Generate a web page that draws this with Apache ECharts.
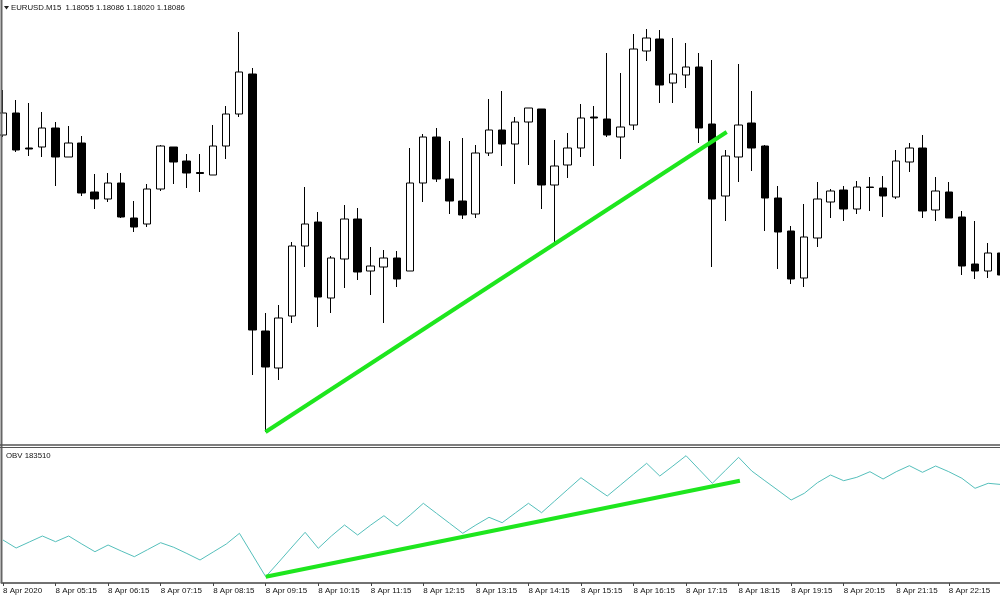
<!DOCTYPE html>
<html>
<head>
<meta charset="utf-8">
<script src="https://cdn.jsdelivr.net/npm/echarts@6/dist/echarts.min.js"></script>
<style>
html,body{margin:0;padding:0;background:#fff;}
#chart{width:1000px;height:600px;}
</style>
</head>
<body>
<div id="chart"></div>
<script>
// ---- data (price & OBV in relative units) ----
const tickLabels = ['8 Apr 2020','8 Apr 05:15','8 Apr 06:15','8 Apr 07:15','8 Apr 08:15','8 Apr 09:15','8 Apr 10:15','8 Apr 11:15','8 Apr 12:15','8 Apr 13:15','8 Apr 14:15','8 Apr 15:15','8 Apr 16:15','8 Apr 17:15','8 Apr 18:15','8 Apr 19:15','8 Apr 20:15','8 Apr 21:15','8 Apr 22:15'];
const tickIndex = [0,4,8,12,16,20,24,28,32,36,40,44,48,52,56,60,64,68,72];

const opens  = [365,387,352,353,372,343,357,308,301,317, 282,276,311,353,339,327.5,325,354,386,426, 169,132,184,254,278,202,241,281,229,233, 242,229,317,363,321,299,286,347,370,356, 378,391,315,335,352,383,381,363,375,449, 461,417,425,433,376,304,343,377,354,302, 269,222,262,298,310,291,313,312,303,338, 352,290,308,283,236,229,247];
const closes = [387,350,351,372,343,357,307,301,317,283, 273,311,354,338,327,326.5,354,386,428,170, 133,182,254,276,203,242,281,228,234,242, 221,317,363,321,299,285,347,370,356,378, 392,315,334,352,382,382,365,373,451,462, 415,426,433,372,301,344,375,352,302,268, 221,263,301,309,291,313,312.5,304,339,352, 289,309,282,234,229,247,225];
const lows   = [363,348,344,343,314,343,304,291,298,282, 268,273,309,316,312,308,325,341,383,125, 68,120,177,233,173,187,212,220,205,177, 213,229,298,318,286,281,282,344,334,316, 335,291,256,322,343,334,363,341,370,439, 397,397,412,357,233,279,318,329,269,231, 216,213,253,282,279,286,289,283,301,328, 282,279,282,225,221,222,224];
const highs  = [410,400,397,388,378,374,364,326,327,327, 299,316,355,353,346,346,375,394,468,432, 187,195,258,313,288,244,295,292,253,250, 249,352,366,372,359,362,355,401,409,383, 392,391,360,367,396,394,447,427,466,471, 470,462,457,447,440,350,436,409,355,314, 274,296,318,311,314,319,323,324,350,357, 365,323,318,289,279,257,255];
const obv    = [128,120,126,132,126.3,132,124,116.3,123,117, 111.3,118.3,125.3,120.7,114.5,108,116,124,134.7,113, 91.3,106,121,135.7,119.7,132,143,133,143,152.3, 142,153,164.7,154.7,144.7,134.7,143,150.7,145.3,155, 164.7,155.3,167,178.7,190.3,181,172,182.9,193.8,204.7, 192,202,212.3,198.5,184.7,197.7,210.7,197,187.3,177.7, 168,174.7,185.3,193,187.3,190.7,196.3,189,196.3,202.3, 195.7,202,196.3,189.7,179.7,184.7,183.5];
const trendPrice = [[20, 68], [55.1, 368]];
const trendObv   = [[20, 91.3], [56.1, 187.3]];
const headerText = 'EURUSD.M15  1.18055 1.18086 1.18020 1.18086';
const obvText = 'OBV 183510';

// ---- build ----
const candleData = opens.map((o, i) => [i, o, closes[i], lows[i], highs[i]]);
const obvData = obv.map((v, i) => [i, v]);
const FONT = "'Liberation Sans', Arial, sans-serif";
const XMIN = -0.129, XMAX = 75.9;

const chart = echarts.init(document.getElementById('chart'), null, {renderer: 'canvas'});
chart.setOption({
  animation: false,
  backgroundColor: '#fff',
  grid: [
    {left: 1, right: 0, top: 0, height: 444},
    {left: 1, right: 0, top: 448, height: 135}
  ],
  xAxis: [
    {type: 'value', gridIndex: 0, min: XMIN, max: XMAX, show: false, splitLine: {show: false}},
    {type: 'value', gridIndex: 1, min: XMIN, max: XMAX,
      splitLine: {show: false},
      axisLine: {show: true, onZero: false, lineStyle: {color: '#444', width: 1.5}},
      axisTick: {show: true, customValues: tickIndex, length: 3, lineStyle: {color: '#444', width: 1}},
      axisLabel: {show: true, customValues: tickIndex, align: 'left', margin: 4, fontSize: 8,
        fontFamily: FONT, color: '#111',
        formatter: v => tickLabels[Math.round(v / 4)] || ''}
    }
  ],
  yAxis: [
    {type: 'value', gridIndex: 0, min: 56, max: 500, show: false, splitLine: {show: false}},
    {type: 'value', gridIndex: 1, min: 85, max: 220, show: false, splitLine: {show: false}}
  ],
  series: [
    {type: 'candlestick', xAxisIndex: 0, yAxisIndex: 0, data: candleData,
      encode: {x: 0, y: [1, 2, 3, 4]}, barWidth: 8,
      itemStyle: {color: '#fff', color0: '#000', borderColor: '#000', borderColor0: '#000', borderWidth: 1},
      z: 2},
    {type: 'line', xAxisIndex: 0, yAxisIndex: 0, data: trendPrice, symbol: 'none',
      lineStyle: {color: '#1ee61e', width: 4}, z: 5},
    {type: 'line', xAxisIndex: 1, yAxisIndex: 1, data: obvData, symbol: 'none',
      lineStyle: {color: '#55bfbb', width: 1}, z: 2},
    {type: 'line', xAxisIndex: 1, yAxisIndex: 1, data: trendObv, symbol: 'none',
      lineStyle: {color: '#1ee61e', width: 4}, z: 5}
  ],
  graphic: [
    {type: 'line', z: 100, shape: {x1: 1.5, y1: 0, x2: 1.5, y2: 583}, style: {stroke: '#666', lineWidth: 2}},
    {type: 'line', z: 100, shape: {x1: 0, y1: 445, x2: 1000, y2: 445}, style: {stroke: '#555', lineWidth: 1.5}},
    {type: 'line', z: 100, shape: {x1: 0, y1: 447.5, x2: 1000, y2: 447.5}, style: {stroke: '#555', lineWidth: 1}},
    {type: 'polygon', z: 100, shape: {points: [[4, 6], [9, 6], [6.5, 9.5]]}, style: {fill: '#222'}},
    {type: 'text', z: 100, x: 11, y: 8, style: {text: headerText, fontSize: 7.8, fontFamily: FONT, fill: '#111', verticalAlign: 'middle'}},
    {type: 'text', z: 100, x: 6, y: 455.5, style: {text: obvText, fontSize: 7.8, fontFamily: FONT, fill: '#111', verticalAlign: 'middle'}}
  ]
});
</script>
</body>
</html>
